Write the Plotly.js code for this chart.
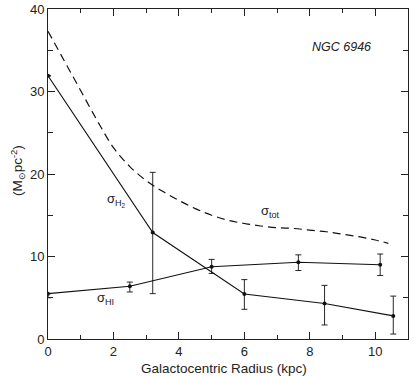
<!DOCTYPE html>
<html>
<head>
<meta charset="utf-8">
<script src="https://cdn.plot.ly/plotly-3.0.1.min.js"></script>
<style>html,body{margin:0;padding:0;background:#fff;}#chart{width:418px;height:376px;}</style>
</head>
<body>
<div id="chart"></div>
<script>
// Molecular hydrogen surface density
const h2X = [0, 3.2, 6.0, 8.45, 10.55];
const h2Y = [31.9, 12.9, 5.45, 4.3, 2.8];
const h2ErrPlus = [0, 7.3, 1.75, 2.2, 2.4];
const h2ErrMinus = [0, 7.4, 1.85, 2.6, 2.2];

// Atomic hydrogen surface density
const hiX = [0, 2.5, 5.0, 7.65, 10.15];
const hiY = [5.5, 6.4, 8.75, 9.3, 9.0];
const hiErrPlus = [0, 0.5, 0.9, 0.9, 1.3];
const hiErrMinus = [0.5, 0.7, 0.8, 1.0, 1.3];

// Total surface density (dashed)
const totX = [0, 0.5, 1, 1.5, 2, 2.5, 3, 3.5, 4, 4.5, 5, 5.5, 6, 6.5, 7, 7.5, 8, 8.5, 9, 9.5, 10, 10.4];
const totY = [37.3, 33.7, 30.1, 26.5, 23.2, 20.9, 19.2, 17.9, 16.8, 15.8, 15.0, 14.4, 14.0, 13.7, 13.5, 13.4, 13.2, 13.0, 12.7, 12.4, 12.0, 11.6];

const xTickVals = [0, 2, 4, 6, 8, 10];
const yTickVals = [0, 10, 20, 30, 40];

const font = "Liberation Sans, Arial, sans-serif";

const traces = [
  {
    x: totX, y: totY, mode: 'lines', type: 'scatter',
    line: {color: '#111', width: 1.2, dash: '8px,5px', shape: 'spline', smoothing: 1},
    hoverinfo: 'skip'
  },
  {
    x: h2X, y: h2Y, mode: 'lines+markers', type: 'scatter',
    line: {color: '#111', width: 1.1},
    marker: {color: '#111', size: 4},
    error_y: {type: 'data', array: h2ErrPlus, arrayminus: h2ErrMinus, visible: true, color: '#111', thickness: 0.9, width: 3}
  },
  {
    x: hiX, y: hiY, mode: 'lines+markers', type: 'scatter',
    line: {color: '#111', width: 1.1},
    marker: {color: '#111', size: 4},
    error_y: {type: 'data', array: hiErrPlus, arrayminus: hiErrMinus, visible: true, color: '#111', thickness: 0.9, width: 3}
  }
];

const layout = {
  width: 418, height: 376,
  margin: {l: 48, r: 10, t: 9, b: 37},
  paper_bgcolor: '#fff', plot_bgcolor: '#fff',
  showlegend: false,
  font: {family: font, color: '#222', size: 13},
  xaxis: {
    range: [0, 11], showgrid: false, zeroline: false,
    showline: true, linecolor: '#222', linewidth: 1, mirror: 'ticks',
    ticks: 'inside', ticklen: 7, tickwidth: 1, tickcolor: '#222',
    tickvals: xTickVals, ticktext: xTickVals.map(String),
    minor: {dtick: 1, ticks: 'inside', ticklen: 4, tickcolor: '#222', tickwidth: 1, showgrid: false},
    tickfont: {family: font, size: 13, color: '#222'}
  },
  yaxis: {
    range: [0, 40], showgrid: false, zeroline: false,
    showline: true, linecolor: '#222', linewidth: 1, mirror: 'ticks',
    ticks: 'inside', ticklen: 7, tickwidth: 1, tickcolor: '#222',
    tickvals: yTickVals, ticktext: yTickVals.map(String),
    minor: {dtick: 5, ticks: 'inside', ticklen: 5, tickcolor: '#222', tickwidth: 1, showgrid: false},
    tickfont: {family: font, size: 13, color: '#222'}
  },
  annotations: [
    {text: 'Galactocentric Radius (kpc)', xref: 'paper', yref: 'paper', x: 0.49, y: -0.088,
     xanchor: 'center', yanchor: 'middle', showarrow: false, font: {family: font, size: 13.5, color: '#222'}},
    {text: '(M<sub>⊙</sub>pc<sup>-2</sup>)', xref: 'paper', yref: 'paper', x: -0.085, y: 0.51,
     xanchor: 'center', yanchor: 'middle', textangle: -90, showarrow: false, font: {family: font, size: 13.5, color: '#222'}},
    {text: '<i>NGC 6946</i>', x: 8.98, y: 35.4, xref: 'x', yref: 'y', showarrow: false,
     font: {family: font, size: 12.5, color: '#222'}},
    {text: 'σ<sub>H<sub>2</sub></sub>', x: 2.1, y: 16.8, xref: 'x', yref: 'y', showarrow: false,
     font: {family: font, size: 13, color: '#222'}},
    {text: 'σ<sub>tot</sub>', x: 6.8, y: 15.4, xref: 'x', yref: 'y', showarrow: false,
     font: {family: font, size: 13, color: '#222'}},
    {text: 'σ<sub>HI</sub>', x: 1.75, y: 4.9, xref: 'x', yref: 'y', showarrow: false,
     font: {family: font, size: 13, color: '#222'}}
  ]
};

Plotly.newPlot('chart', traces, layout, {displayModeBar: false, staticPlot: true});
</script>
</body>
</html>
